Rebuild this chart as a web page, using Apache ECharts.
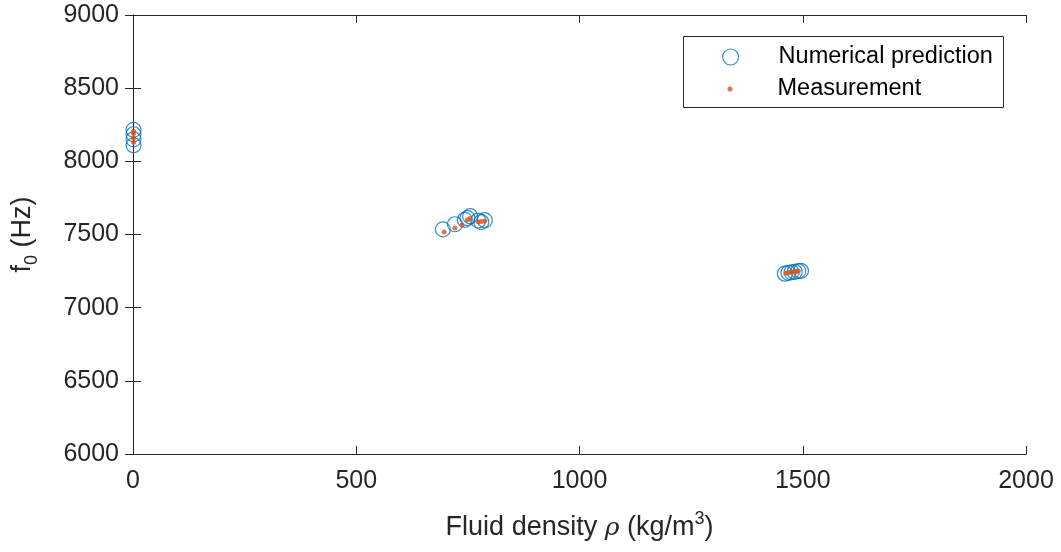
<!DOCTYPE html>
<html>
<head>
<meta charset="utf-8">
<script src="https://cdn.jsdelivr.net/npm/echarts@6/dist/echarts.min.js"></script>
<style>
html, body { margin: 0; padding: 0; background: #fff; }
#chart { width: 1061px; height: 552px; }
</style>
</head>
<body>
<div id="chart"></div>
<script>
// density (kg/m^3) and resonance frequency (Hz)
var predRho  = [1.2, 1.2, 1.2, 1.2, 694, 721, 743, 755, 749, 773, 780, 788, 1460, 1468, 1475, 1482, 1490, 1496];
var predF    = [8110, 8150, 8185, 8215, 7535, 7570, 7600, 7625, 7612, 7595, 7585, 7598, 7232, 7238, 7242, 7245, 7250, 7252];
var measRho  = [1.2, 1.2, 1.2, 1.2, 697, 721, 737, 755, 749, 773, 780, 788, 1462, 1468, 1474, 1480, 1486, 1490];
var measF    = [8130, 8160, 8190, 8205, 7517, 7545, 7565, 7610, 7600, 7585, 7588, 7592, 7236, 7240, 7243, 7245, 7248, 7250];
var xTicks = [0, 500, 1000, 1500, 2000];
var yTicks = [6000, 6500, 7000, 7500, 8000, 8500, 9000];

function pairs(xs, ys) {
    return xs.map(function (x, i) { return [x, ys[i]]; });
}

var font = "Liberation Sans, Arial, sans-serif";
var axisCol = "#262626";
var blue = "#0072BD", red = "#D95319";

var tickStyle = { inside: true, length: 8, lineStyle: { color: axisCol, width: 1 } };

var chart = echarts.init(document.getElementById("chart"));
var option = {
    backgroundColor: "#fff",
    animation: false,
    grid: { left: 133, right: 35, top: 15, bottom: 98 },
    graphic: [{
        type: "rect",
        z: 3,
        shape: { x: 683.5, y: 36.5, width: 320, height: 71 },
        style: { fill: "#fff", stroke: axisCol, lineWidth: 1 }
    }],
    legend: [{
        left: 722, top: 45,
        padding: 0,
        itemWidth: 16, itemHeight: 16,
        textStyle: { fontFamily: font, fontSize: 23.5, color: "#000", padding: [0, 0, 0, 35] },
        data: [{ name: "Numerical prediction", icon: "circle",
                 itemStyle: { color: "rgba(0,0,0,0)", borderColor: blue, borderWidth: 1.2 } }]
    }, {
        left: 727.5, top: 77,
        padding: 0,
        itemWidth: 5, itemHeight: 5,
        textStyle: { fontFamily: font, fontSize: 23.5, color: "#000", padding: [0, 0, 0, 40] },
        data: [{ name: "Measurement", icon: "circle", itemStyle: { color: red } }]
    }],
    xAxis: [{
        type: "value",
        min: xTicks[0], max: xTicks[xTicks.length - 1], interval: xTicks[1] - xTicks[0],
        name: "{t|Fluid density }{r|ρ}{t| (kg/m}{s|3}{t|)}",
        nameLocation: "middle",
        nameGap: 56,
        nameTextStyle: {
            rich: {
                t: { fontFamily: font, fontSize: 27, color: axisCol },
                r: { fontFamily: "DejaVu Serif, serif", fontStyle: "italic", fontSize: 25, color: axisCol },
                s: { fontFamily: font, fontSize: 18, color: axisCol, verticalAlign: "bottom", padding: [0, 0, 18, 0] }
            }
        },
        axisLine: { onZero: false, lineStyle: { color: axisCol, width: 1 } },
        axisTick: tickStyle,
        axisLabel: { fontFamily: font, fontSize: 25, color: axisCol, margin: 15,
                     formatter: function (v) { return String(v); } },
        splitLine: { show: false }
    }, {
        type: "value", position: "top",
        min: xTicks[0], max: xTicks[xTicks.length - 1], interval: xTicks[1] - xTicks[0],
        axisLine: { lineStyle: { color: axisCol } },
        axisTick: tickStyle,
        axisLabel: { show: false },
        splitLine: { show: false }
    }],
    yAxis: [{
        type: "value",
        min: yTicks[0], max: yTicks[yTicks.length - 1], interval: yTicks[1] - yTicks[0],
        name: "{t|f}{s|0}{t| (Hz)}",
        nameLocation: "middle",
        nameGap: 92,
        nameRotate: 90,
        nameTextStyle: {
            rich: {
                t: { fontFamily: font, fontSize: 27, color: axisCol },
                s: { fontFamily: font, fontSize: 18, color: axisCol, verticalAlign: "top", padding: [18, 0, 0, 0] }
            }
        },
        axisLine: { onZero: false, lineStyle: { color: axisCol, width: 1 } },
        axisTick: tickStyle,
        axisLabel: { fontFamily: font, fontSize: 25, color: axisCol, margin: 14,
                     formatter: function (v) { return String(v); } },
        splitLine: { show: false }
    }, {
        type: "value", position: "right",
        min: yTicks[0], max: yTicks[yTicks.length - 1], interval: yTicks[1] - yTicks[0],
        axisLine: { lineStyle: { color: axisCol } },
        axisTick: tickStyle,
        axisLabel: { show: false },
        splitLine: { show: false }
    }],
    series: [{
        name: "Numerical prediction",
        type: "scatter",
        symbol: "circle",
        symbolSize: 15,
        itemStyle: { color: "rgba(0,0,0,0)", borderColor: blue, borderWidth: 1.2 },
        data: pairs(predRho, predF),
        z: 2
    }, {
        name: "Measurement",
        type: "scatter",
        symbol: "circle",
        symbolSize: 5,
        itemStyle: { color: red },
        data: pairs(measRho, measF),
        z: 3
    }]
};
chart.setOption(option);

window.onresize = function () {
    chart.resize();
};
</script>
</body>
</html>
